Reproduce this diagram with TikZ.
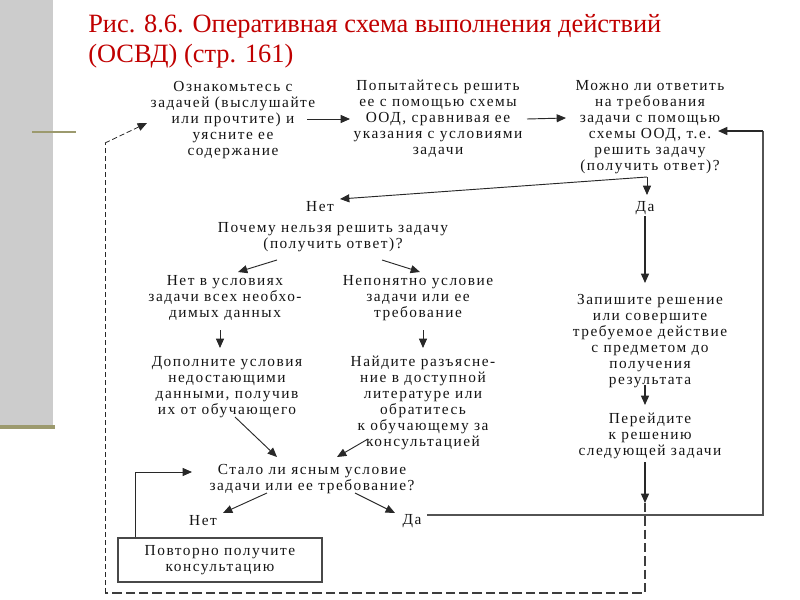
\documentclass[tikz,border=0pt]{standalone}
\usepackage{fontspec}
\setmainfont{Liberation Serif}
\newfontfamily\dfont[LetterSpace=10]{Liberation Serif}
\usetikzlibrary{arrows.meta,calc}
\definecolor{sidegray}{RGB}{204,204,204}
\definecolor{olivebar}{RGB}{156,154,110}
\definecolor{titlered}{RGB}{192,0,0}
\definecolor{ink}{RGB}{20,20,20}
\definecolor{wire}{RGB}{40,40,40}
\tikzset{
  txt/.style={align=center,inner sep=1pt,text=ink,font=\dfont\fontsize{11.5}{12}\selectfont},
  ttl/.style={anchor=base west,inner sep=0pt,text=titlered,font=\fontsize{19.8}{24}\selectfont},
  arr/.style={draw=wire,line width=0.7pt,-{Triangle[length=7pt,width=6pt]}},
  loopline/.style={draw=wire!80,line width=1.3pt},
  dashthin/.style={draw=wire,line width=0.6pt,dash pattern=on 4pt off 2pt},
  dashthick/.style={draw=wire!90,line width=1.1pt,dash pattern=on 7pt off 3pt},
  boxnode/.style={txt,draw=wire!85,line width=1.2pt,minimum width=153pt,minimum height=33pt}
}
\begin{document}
\begin{tikzpicture}[x=0.75pt,y=-0.75pt]
\useasboundingbox (0,0) rectangle (800,600);
\fill[sidegray] (0,0) rectangle (53,427);
\draw[olivebar,line width=2.2pt] (32,132) -- (76,132);
\draw[olivebar,line width=2.4pt] (0,427) -- (55,427);
\node[ttl] (t1) at (88,32) {Рис. 8.6. Оперативная схема выполнения действий};
\node[ttl] (t2) at (88,62) {(ОСВД) (стр. 161)};
% nodes
\node[txt] (b1) at (233,120) {Ознакомьтесь с\\задачей (выслушайте\\или прочтите) и\\уясните ее\\содержание};
\node[txt] (b2) at (438,119) {Попытайтесь решить\\ее с помощью схемы\\ООД, сравнивая ее\\указания с условиями\\задачи};
\node[txt] (b3) at (650,127) {Можно ли ответить\\на требования\\задачи с помощью\\схемы ООД, т.е.\\решить задачу\\(получить ответ)?};
\node[txt] (net1) at (320,207) {Нет};
\node[txt] (da1) at (645,208) {Да};
\node[txt] (why) at (333,237.5) {Почему нельзя решить задачу\\(получить ответ)?};
\node[txt] (q1) at (225,298) {Нет в условиях\\задачи всех необхо-\\димых данных};
\node[txt] (q2) at (418,298) {Непонятно условие\\задачи или ее\\требование};
\node[txt] (s1) at (227,387) {Дополните условия\\недостающими\\данными, получив\\их от обучающего};
\node[txt] (s2) at (423,403) {Найдите разъясне-\\ние в доступной\\литературе или\\обратитесь\\к обучающему за\\консультацией};
\node[txt] (w1) at (650,341) {Запишите решение\\или совершите\\требуемое действие\\с предметом до\\получения\\результата};
\node[txt] (w2) at (650,436) {Перейдите\\к решению\\следующей задачи};
\node[txt] (clear) at (312,479) {Стало ли ясным условие\\задачи или ее требование?};
\node[txt] (net2) at (203,521) {Нет};
\node[txt] (da2) at (412,521) {Да};
\node[boxnode] (rep) at (220,560) {Повторно получите\\консультацию};
% helper coordinates
\coordinate (c1) at (647,177);
\coordinate (rloop) at (763,131);
\coordinate (d1) at (645,503);
\coordinate (d2) at (105,593);
\coordinate (d3) at (105,143);
% connectors
\draw[arr] ($(b1)+(74,-1)$) -- ($(b2)+(-88,0)$);
\draw[arr] ($(b2)+(89,0)$) -- ($(b3)+(-84,-9)$);
\draw[arr] (c1) -- ($(net1)+(20,-8)$);
\draw[arr] (c1) -- ($(da1)+(2,-13)$);
\draw[arr] ($(why)+(-56,22.5)$) -- ($(q1)+(13,-26)$);
\draw[arr] ($(why)+(49,22.5)$) -- ($(q2)+(2,-26)$);
\draw[arr] ($(q1)+(-5,32)$) -- ($(s1)+(-7,-39)$);
\draw[arr] ($(q2)+(5,32)$) -- ($(s2)+(0,-55)$);
\draw[arr] ($(s1)+(8,30)$) -- ($(clear)+(-35,-22)$);
\draw[arr] ($(s2)+(-55,36)$) -- ($(clear)+(25,-22)$);
\draw[arr] ($(clear)+(-45,14)$) -- ($(net2)+(20,-8)$);
\draw[arr] ($(clear)+(43,14)$) -- ($(da2)+(-17,-8)$);
\draw[arr] ($(rep.north west)+(18,0)$) |- ($(clear)+(-120,-7)$);
\draw[loopline] ($(da2)+(15,-6)$) -| (rloop);
\draw[arr,line width=1.1pt] (rloop) -- ($(b3)+(68,4)$);
\draw[arr,line width=1pt] ($(da1)+(0,8)$) -- ($(w1)+(-5,-58)$);
\draw[arr,line width=1pt] ($(w1)+(-5,44)$) -- ($(w2)+(-5,-31)$);
\draw[arr,line width=1pt] ($(w2)+(-5,26)$) -- (d1);
\draw[dashthick] (d1) |- (d2);
\draw[dashthin] (d2) -- (d3);
\draw[arr,dashthin] (d3) -- ($(b1)+(-86,3)$);
\end{tikzpicture}
\end{document}
